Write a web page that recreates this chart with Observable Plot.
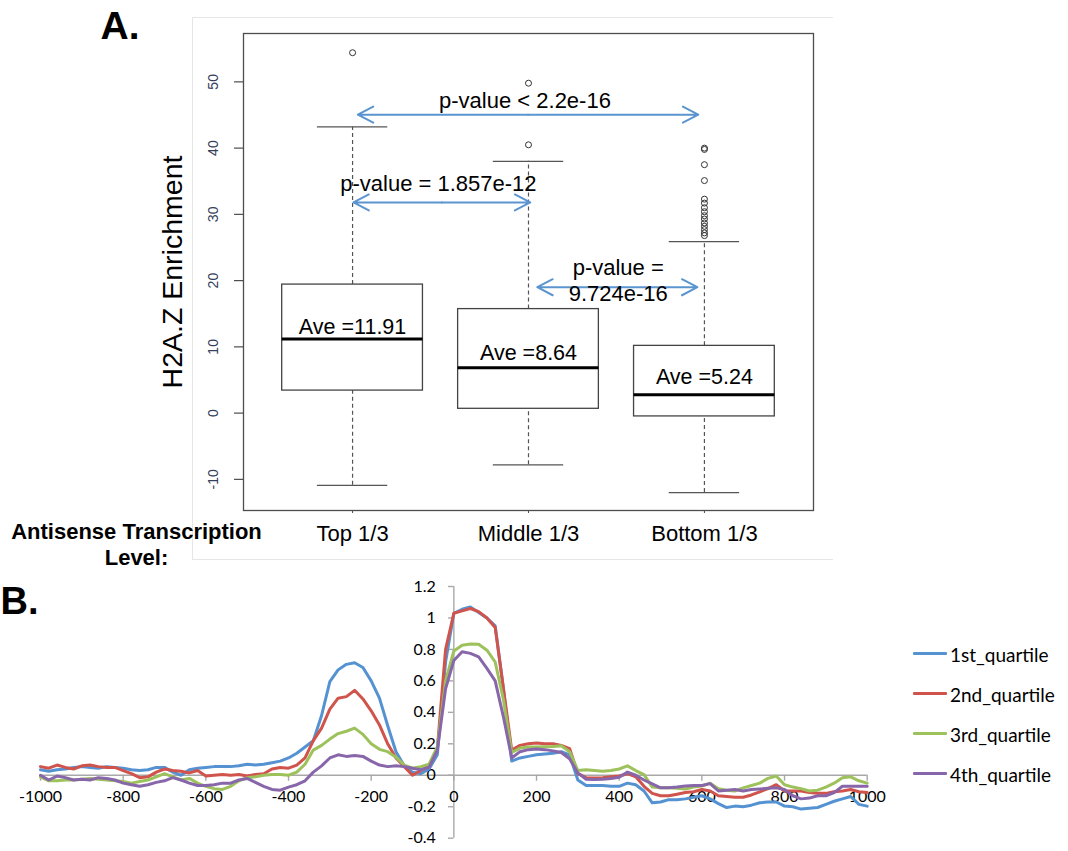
<!DOCTYPE html>
<html><head><meta charset="utf-8">
<script src="https://cdn.jsdelivr.net/npm/d3@7"></script>
<script src="https://cdn.jsdelivr.net/npm/@observablehq/plot@0.6"></script>
<style>
body{margin:0;background:#fff;}
#wrap{position:relative;width:1068px;height:851px;overflow:hidden;background:#fff;}
#outerA{position:absolute;left:192px;top:17px;width:640px;height:541px;border-top:1px solid #e6e6e6;border-left:1px solid #e6e6e6;border-bottom:1px solid #e6e6e6;}
#plotA{position:absolute;left:0;top:0;}
#plotB{position:absolute;left:0;top:570px;}
.leg{position:absolute;left:913px;width:34px;height:3px;border-radius:1px;}
.legt{position:absolute;left:950px;font-family:Lato,"Open Sans",sans-serif;font-size:19px;line-height:20px;color:#000;white-space:nowrap;}
</style></head>
<body><div id="wrap"><div id="outerA"></div><div id="plotA"></div><div id="plotB"></div><div id="legend"></div></div>
<script>
// ---------- Panel A data ----------
const groups = ["Top 1/3", "Middle 1/3", "Bottom 1/3"];
const whiskerLow = [-10.9, -7.8, -12.0];
const q1 = [3.4, 0.65, -0.5];
const medians = [11.2, 6.85, 2.78];
const q3 = [19.4, 15.7, 10.15];
const whiskerHigh = [43.2, 38.0, 25.9];
const outliers = [
  [54.4],
  [49.8, 40.5],
  [40.0, 39.8, 37.5, 35.1, 32.3, 31.7, 31.0, 30.4, 29.8, 29.3, 28.7, 28.2, 27.7, 27.2, 26.8]
];
const averages = ["11.91", "8.64", "5.24"];
const aveLabelY = [12.0, 8.05, 4.43];
const yTicksA = [-10, 0, 10, 20, 30, 40, 50];
const pLabels = ["p-value < 2.2e-16", "p-value = 1.857e-12", "p-value =\n9.724e-16"];
const pLabelX = [1.98, 1.488, 2.51];
const pLabelY = [46.0, 33.5, 16.9];
const pFrom = [1.03, 1.005, 2.05];
const pTo = [2.965, 2.01, 2.96];
const pArrowY = [45.05, 31.8, 19.0];

// ---------- Panel B data ----------
const positions = [-1000,-980,-960,-940,-920,-900,-880,-860,-840,-820,-800,-780,-760,-740,-720,-700,-680,-660,-640,-620,-600,-580,-560,-540,-520,-500,-480,-460,-440,-420,-400,-380,-360,-340,-320,-300,-280,-260,-240,-220,-200,-180,-160,-140,-120,-100,-80,-60,-40,-20,0,20,40,60,80,100,120,140,160,180,200,220,240,260,280,300,320,340,360,380,400,420,440,460,480,500,520,540,560,580,600,620,640,660,680,700,720,740,760,780,800,820,840,860,880,900,920,940,960,980,1000];
const quartile1 = [0.035,0.025,0.035,0.04,0.05,0.055,0.05,0.045,0.055,0.05,0.045,0.035,0.03,0.035,0.05,0.05,0.02,0.0,0.035,0.045,0.05,0.055,0.055,0.055,0.06,0.07,
  0.065,0.07,0.08,0.09,0.11,0.14,0.18,0.22,0.38,0.595,0.67,0.705,0.715,0.685,0.60,0.49,0.315,0.15,0.06,0.02,0.01,0.04,0.13,0.72,1.03,
  1.055,1.07,1.035,1.0,0.95,0.55,0.09,0.11,0.12,0.13,0.135,0.14,0.15,0.13,-0.03,-0.065,-0.065,-0.065,-0.07,-0.07,-0.05,-0.06,-0.1,-0.175,-0.17,-0.155,-0.155,-0.15,-0.14,-0.13,-0.15,-0.18,-0.205,-0.196,-0.2,-0.19,-0.175,-0.17,-0.17,-0.196,-0.2,-0.215,-0.21,-0.205,-0.185,-0.165,-0.15,-0.135,-0.185,-0.196];
const quartile2 = [0.055,0.045,0.065,0.05,0.04,0.06,0.065,0.055,0.05,0.05,0.03,0.01,-0.015,-0.01,0.02,0.04,0.03,0.025,0.015,0.03,-0.005,0.0,0.005,0.0,0.005,-0.005,
  0.005,0.01,0.04,0.05,0.045,0.065,0.11,0.22,0.30,0.42,0.49,0.50,0.54,0.485,0.41,0.32,0.2,0.11,0.055,0.0,0.03,0.06,0.17,0.8,1.03,
  1.045,1.06,1.04,1.0,0.94,0.55,0.16,0.19,0.2,0.205,0.2,0.2,0.19,0.17,0.01,-0.015,-0.017,-0.015,-0.01,-0.005,0.01,-0.01,-0.07,-0.115,-0.13,-0.13,-0.12,-0.11,-0.105,-0.09,-0.1,-0.13,-0.135,-0.14,-0.14,-0.125,-0.105,-0.085,-0.06,-0.1,-0.1,-0.1,-0.11,-0.115,-0.115,-0.105,-0.1,-0.09,-0.105,-0.11];
const quartile3 = [-0.01,-0.035,-0.035,-0.03,-0.03,-0.025,-0.02,-0.025,-0.03,-0.035,-0.04,-0.05,-0.04,-0.03,-0.01,0.01,-0.01,-0.03,-0.02,-0.05,-0.07,-0.085,-0.09,-0.07,-0.035,-0.015,
  -0.01,0.0,0.005,0.005,0.0,0.02,0.07,0.16,0.19,0.23,0.265,0.28,0.30,0.26,0.20,0.165,0.15,0.115,0.065,0.045,0.055,0.07,0.18,0.6,0.79,
  0.827,0.835,0.833,0.795,0.72,0.48,0.145,0.173,0.18,0.18,0.182,0.183,0.188,0.15,0.03,0.035,0.03,0.025,0.03,0.04,0.06,0.03,0.004,-0.075,-0.08,-0.08,-0.083,-0.087,-0.075,-0.068,-0.05,-0.085,-0.095,-0.1,-0.08,-0.065,-0.05,-0.02,-0.005,-0.06,-0.075,-0.085,-0.1,-0.095,-0.075,-0.05,-0.015,-0.01,-0.035,-0.05];
const quartile4 = [0.0,-0.03,-0.005,-0.015,-0.03,-0.025,-0.03,-0.015,-0.02,-0.03,-0.05,-0.06,-0.07,-0.06,-0.045,-0.035,-0.015,-0.03,-0.05,-0.065,-0.065,-0.06,-0.05,-0.05,-0.03,-0.02,
  -0.045,-0.07,-0.09,-0.095,-0.075,-0.06,-0.035,0.02,0.06,0.11,0.13,0.12,0.125,0.12,0.09,0.065,0.055,0.06,0.055,0.045,0.035,0.05,0.16,0.55,0.73,
  0.785,0.775,0.753,0.68,0.6,0.37,0.11,0.15,0.163,0.167,0.163,0.155,0.145,0.105,0.015,-0.025,-0.027,-0.025,-0.02,-0.012,0.02,0.0,-0.03,-0.055,-0.08,-0.08,-0.075,-0.068,-0.065,-0.065,-0.053,-0.1,-0.095,-0.09,-0.1,-0.09,-0.087,-0.083,-0.08,-0.09,-0.13,-0.15,-0.145,-0.13,-0.13,-0.11,-0.07,-0.07,-0.07,-0.07];
const seriesNames = ["1st_quartile", "2nd_quartile", "3rd_quartile", "4th_quartile"];
const seriesColors = ["#5592d2", "#d0534c", "#9dc15b", "#8866aa"];
const xTicksB = [-1000, -800, -600, -400, -200, 0, 200, 400, 600, 800, 1000];
const xTickLabelsB = ["-1000", "-800", "-600", "-400", "-200", "0", "200", "400", "600", "800", "1000"];
const yTicksB = [-0.4, -0.2, 0, 0.2, 0.4, 0.6, 0.8, 1, 1.2];
const yTickLabelsB = ["-0.4", "-0.2", "0", "0.2", "0.4", "0.6", "0.8", "1", "1.2"];

// ---------- Panel A ----------
const boxes = groups.map((g, i) => ({i: i + 1, lo: whiskerLow[i], q1: q1[i], med: medians[i], q3: q3[i], hi: whiskerHigh[i]}));
const outl = outliers.flatMap((vals, i) => vals.map(v => ({i: i + 1, v})));
const arrowsData = pArrowY.flatMap((y, i) => {
  const m = (pFrom[i] + pTo[i]) / 2;
  return [{x1: m, x2: pFrom[i], y}, {x1: m, x2: pTo[i], y}];
});
const fontA = "'Liberation Sans', Arial, sans-serif";
const plotA = Plot.plot({
  width: 830, height: 570,
  marginLeft: 243, marginRight: 17, marginTop: 33, marginBottom: 60,
  x: {domain: [0.38, 3.62], axis: null},
  y: {domain: [-14.7, 57.3], axis: null},
  style: {fontFamily: fontA, background: "transparent", overflow: "visible"},
  marks: [
    Plot.frame({stroke: "#4d4d4d", strokeWidth: 1.3}),
    Plot.axisY({ticks: yTicksA, tickSize: 9, tickFormat: () => "", stroke: "#4d4d4d", strokeWidth: 1.2}),
    Plot.text(yTicksA, {y: d => d, frameAnchor: "left", dx: -30, rotate: -90, textAnchor: "middle", text: d => String(d), fontSize: 14, fill: "#34405a"}),
    Plot.axisX({ticks: [1, 2, 3], tickSize: 3, tickPadding: 12, tickFormat: i => groups[i - 1], fontSize: 22, fill: "#000", stroke: "#4d4d4d"}),
    Plot.ruleX(boxes, {x: "i", y1: "q3", y2: "hi", stroke: "#555", strokeWidth: 1.2, strokeDasharray: "4,3"}),
    Plot.ruleX(boxes, {x: "i", y1: "lo", y2: "q1", stroke: "#555", strokeWidth: 1.2, strokeDasharray: "4,3"}),
    Plot.ruleY(boxes, {y: "hi", x1: d => d.i - 0.2, x2: d => d.i + 0.2, stroke: "#555", strokeWidth: 1.3}),
    Plot.ruleY(boxes, {y: "lo", x1: d => d.i - 0.2, x2: d => d.i + 0.2, stroke: "#555", strokeWidth: 1.3}),
    Plot.rect(boxes, {x1: d => d.i - 0.4, x2: d => d.i + 0.4, y1: "q1", y2: "q3", fill: "white", stroke: "#444", strokeWidth: 1.3}),
    Plot.ruleY(boxes, {y: "med", x1: d => d.i - 0.4, x2: d => d.i + 0.4, stroke: "#000", strokeWidth: 3}),
    Plot.dot(outl, {x: "i", y: "v", r: 3, stroke: "#333", strokeWidth: 1, fill: "none"}),
    Plot.text(groups, {x: (d, i) => i + 1, y: (d, i) => aveLabelY[i], text: (d, i) => "Ave =" + averages[i], lineAnchor: "bottom", fontSize: 21.5, fill: "#000"}),
    Plot.arrow(arrowsData, {x1: "x1", x2: "x2", y1: "y", y2: "y", stroke: "#5b95d0", strokeWidth: 2, headLength: 13, headAngle: 55}),
    Plot.text(pLabels, {x: (d, i) => pLabelX[i], y: (d, i) => pLabelY[i], text: d => d, lineAnchor: "bottom", lineHeight: 1.21, fontSize: 22, fill: "#000"}),
    Plot.text(["H2A.Z Enrichment"], {frameAnchor: "left", dx: -62, rotate: -90, textAnchor: "middle", text: d => d, lineAnchor: "bottom", fontSize: 28.5, fill: "#000"}),
    Plot.text(["A."], {frameAnchor: "top-left", dx: -143, dy: 5, text: d => d, textAnchor: "start", lineAnchor: "bottom", fontSize: 39, fontWeight: "bold", fill: "#000"}),
    Plot.text(["Antisense Transcription\nLevel:"], {frameAnchor: "bottom-left", dx: -107, dy: 54, text: d => d, textAnchor: "middle", lineAnchor: "bottom", lineHeight: 1.18, fontSize: 22, fontWeight: "bold", fill: "#000"})
  ]
});
document.getElementById("plotA").appendChild(plotA);

// ---------- Panel B ----------
const lineData = [quartile1, quartile2, quartile3, quartile4].flatMap((vals, s) =>
  vals.map((v, i) => ({x: positions[i], y: v, series: seriesNames[s]})));
const fontB = "Lato, 'Open Sans', sans-serif";
const plotB = Plot.plot({
  width: 900, height: 281,
  marginLeft: 40, marginRight: 33.3, marginTop: 16, marginBottom: 13.3,
  x: {domain: [-1000, 1000], axis: null},
  y: {domain: [-0.4, 1.2], axis: null},
  color: {domain: seriesNames, range: seriesColors},
  style: {fontFamily: fontB, background: "transparent", overflow: "visible"},
  marks: [
    Plot.ruleY([0], {x1: -1000, x2: 1000, stroke: "#a8a8a8", strokeWidth: 1.4}),
    Plot.ruleX([0], {y1: -0.4, y2: 1.2, stroke: "#a8a8a8", strokeWidth: 1.4}),
    Plot.ruleX(xTicksB, {x: d => d, y1: 0, y2: -0.038, stroke: "#a8a8a8", strokeWidth: 1.4}),
    Plot.ruleY(yTicksB, {y: d => d, x1: 0, x2: -13, stroke: "#a8a8a8", strokeWidth: 1.4}),
    Plot.text(xTicksB, {x: d => d, y: 0, dy: 22, text: (d, i) => xTickLabelsB[i], fontSize: 16, fill: "#000"}),
    Plot.text(yTicksB, {x: 0, y: d => d, dx: -18, textAnchor: "end", text: (d, i) => yTickLabelsB[i], fontSize: 16, fill: "#000"}),
    Plot.line(lineData, {x: "x", y: "y", z: "series", stroke: "series", strokeWidth: 3, strokeLinejoin: "round"}),
    Plot.text(["B."], {frameAnchor: "top-left", dx: -40, dy: 27, text: d => d, textAnchor: "start", lineAnchor: "bottom", fontSize: 38, fontWeight: "bold", fontFamily: fontA, fill: "#000"})
  ]
});
document.getElementById("plotB").appendChild(plotB);

// ---------- Legend ----------
const legendY = [653, 693, 733, 773];
const legend = document.getElementById("legend");
seriesNames.forEach((n, i) => {
  const sw = document.createElement("div");
  sw.className = "leg"; sw.style.top = (legendY[i] - 1.5) + "px"; sw.style.background = seriesColors[i];
  const t = document.createElement("div");
  t.className = "legt"; t.style.top = (legendY[i] - 10 + 2) + "px"; t.textContent = n;
  legend.appendChild(sw); legend.appendChild(t);
});
</script></body></html>
